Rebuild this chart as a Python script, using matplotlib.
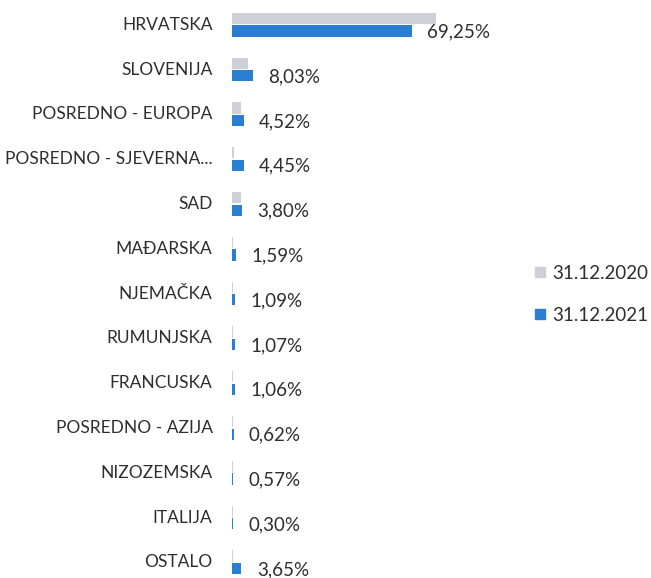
import numpy as np
import matplotlib.pyplot as plt
from matplotlib.lines import Line2D

plt.rcParams['font.family'] = ['Lato', 'DejaVu Sans']

# kategorije i udjeli (%)
zemlje = ['HRVATSKA', 'SLOVENIJA', 'POSREDNO - EUROPA', 'POSREDNO - SJEVERNA...',
          'SAD', 'MAĐARSKA', 'NJEMAČKA', 'RUMUNJSKA', 'FRANCUSKA',
          'POSREDNO - AZIJA', 'NIZOZEMSKA', 'ITALIJA', 'OSTALO']
udio_2020 = [78.5, 6.3, 3.6, 0.6, 3.4, 0.3, 0.4, 0.4, 0.3, 0.5, 0.4, 0.2, 0.4]
udio_2021 = [69.25, 8.03, 4.52, 4.45, 3.80, 1.59, 1.09, 1.07, 1.06, 0.62, 0.57, 0.30, 3.65]
oznake = ['69,25%', '8,03%', '4,52%', '4,45%', '3,80%', '1,59%', '1,09%',
          '1,07%', '1,06%', '0,62%', '0,57%', '0,30%', '3,65%']

c20 = '#cdd1d7'
c21 = '#2b7fd2'
tekst = '#2e2e2e'

fig = plt.figure(figsize=(6.51, 5.78), dpi=100)
ax = fig.add_axes([232/651, 0, 260/651, 1])

y = np.arange(len(zemlje))
h = 0.25
ax.barh(y - 0.14, udio_2020, height=h, color=c20)
ax.barh(y + 0.14, udio_2021, height=h, color=c21)

for i in range(len(zemlje)):
    ax.annotate(oznake[i], (udio_2021[i], y[i] + 0.16), xytext=(11, 0),
                textcoords='offset points', va='center', ha='left',
                fontsize=13.5, color=tekst)

ax.set_xlim(0, 100)
ax.set_ylim(12.351, -0.551)
ax.set_yticks(y - 0.03)
ax.set_yticklabels(zemlje, fontsize=12.5, color=tekst)
ax.tick_params(axis='y', length=0, pad=14)
ax.set_xticks([])
for s in ax.spines.values():
    s.set_visible(False)

handles = [Line2D([], [], marker='s', ls='', color=c20, markersize=7),
           Line2D([], [], marker='s', ls='', color=c21, markersize=7)]
fig.legend(handles, ['31.12.2020', '31.12.2021'], loc='center left',
           bbox_to_anchor=(534/651, 0.491), frameon=False, fontsize=13.5,
           borderpad=0, borderaxespad=0, handlelength=0.62,
           handletextpad=0.33, labelspacing=1.35, labelcolor=tekst)

fig.savefig('out.png')
